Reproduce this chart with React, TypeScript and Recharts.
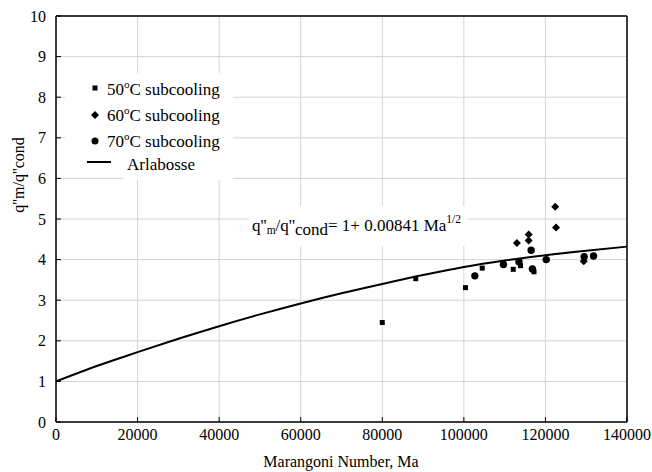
import { ComposedChart, Scatter, Line, XAxis, YAxis, CartesianGrid, ReferenceLine, Customized } from "recharts"

const FONT = "Liberation Serif"

// Arlabosse correlation
const curveMa = [0, 10000, 20000, 30000, 40000, 50000, 60000, 70000, 80000, 90000, 100000, 110000, 120000, 130000, 140000]
const curveRatio = [1.0, 1.38, 1.72, 2.05, 2.36, 2.65, 2.92, 3.17, 3.4, 3.62, 3.82, 3.98, 4.11, 4.22, 4.32]

// 50 C subcooling
const sub50Ma = [80000, 88200, 100400, 104500, 112100, 113900, 117200]
const sub50Ratio = [2.45, 3.53, 3.31, 3.79, 3.76, 3.85, 3.7]

// 60 C subcooling
const sub60Ma = [113000, 115900, 115900, 122400, 122600, 129400]
const sub60Ratio = [4.41, 4.62, 4.47, 5.3, 4.79, 3.96]

// 70 C subcooling
const sub70Ma = [102700, 109700, 113500, 116500, 116800, 120200, 129500, 131800]
const sub70Ratio = [3.6, 3.88, 3.95, 4.23, 3.77, 4.0, 4.07, 4.09]

const xTicks = [0, 20000, 40000, 60000, 80000, 100000, 120000, 140000]
const yTicks = [0, 1, 2, 3, 4, 5, 6, 7, 8, 9, 10]

const zip = (xs: number[], ys: number[]) => xs.map((ma, i) => ({ ma, q: ys[i] }))

const curveData = zip(curveMa, curveRatio)
const sub50 = zip(sub50Ma, sub50Ratio)
const sub60 = zip(sub60Ma, sub60Ratio)
const sub70 = zip(sub70Ma, sub70Ratio)

const Square = (p: any) => <rect x={p.cx - 2.5} y={p.cy - 2.5} width={5} height={5} fill="#000" />
const Diamond = (p: any) => (
  <path d={`M${p.cx},${p.cy - 4} L${p.cx + 4},${p.cy} L${p.cx},${p.cy + 4} L${p.cx - 4},${p.cy} Z`} fill="#000" />
)
const Dot = (p: any) => <circle cx={p.cx} cy={p.cy} r={3.7} fill="#000" />

const XTick = (p: any) => (
  <g>
    <line x1={p.x} x2={p.x} y1={p.y - 7} y2={p.y - 12} stroke="#000" strokeWidth={1} />
    <text x={p.x} y={p.y} dy="0.71em" textAnchor="middle" fontFamily={FONT} fontSize={16} fill="#000">
      {p.payload.value}
    </text>
  </g>
)

const YTick = (p: any) => (
  <g>
    <line x1={p.x + 10} x2={p.x + 15} y1={p.y} y2={p.y} stroke="#000" strokeWidth={1} />
    <text x={p.x} y={p.y} dy="0.35em" textAnchor="end" fontFamily={FONT} fontSize={16} fill="#000">
      {p.payload.value}
    </text>
  </g>
)

function Annotations() {
  return (
    <g fill="#000" fontFamily={FONT}>
      <text transform="translate(24,175) rotate(-90)" textAnchor="middle" fontSize={16}>
        q''m/q''cond
      </text>
      <text x={341} y={467} textAnchor="middle" fontSize={16}>
        Marangoni Number, Ma
      </text>

      {/* legend */}
      <rect x={65} y={73} width={168} height={103} fill="#fff" />
      <rect x={123} y={170} width={110} height={10} fill="#fff" />
      <rect x={92.5} y={85.5} width={5} height={5} />
      <path d="M95,111 L99,115 L95,119 L91,115 Z" />
      <circle cx={95} cy={141} r={3.5} />
      <line x1={87} x2={111} y1={162} y2={162} stroke="#000" strokeWidth={2} />
      <text x={107} y={95} fontSize={17}>
        50<tspan dy={-7} fontSize={11}>o</tspan><tspan dy={7}>C subcooling</tspan>
      </text>
      <text x={107} y={121} fontSize={17}>
        60<tspan dy={-7} fontSize={11}>o</tspan><tspan dy={7}>C subcooling</tspan>
      </text>
      <text x={107} y={147} fontSize={17}>
        70<tspan dy={-7} fontSize={11}>o</tspan><tspan dy={7}>C subcooling</tspan>
      </text>
      <text x={127} y={170} fontSize={17}>
        Arlabosse
      </text>

      {/* correlation */}
      <rect x={249} y={206} width={219} height={40} fill="#fff" />
      <text x={252} y={231} fontSize={17}>
        q''<tspan dy={3} fontSize={11.5}>m</tspan>
        <tspan dy={-3}>/q''</tspan>
        <tspan dy={4}>cond</tspan>
        <tspan dy={-4}>= 1+ 0.00841 Ma</tspan>
        <tspan dy={-8} fontSize={11.5}>1/2</tspan>
      </text>
    </g>
  )
}

export default function App() {
  return (
    <div style={{ position: "absolute", left: 0, top: 0, width: 652, height: 472, background: "#fff" }}>
      <ComposedChart width={652} height={472} margin={{ top: 16, right: 25, left: 0, bottom: 0 }}>
        <CartesianGrid stroke="#d4d4d4" strokeWidth={1} />
        <XAxis
          dataKey="ma"
          type="number"
          domain={[0, 140000]}
          ticks={xTicks}
          interval={0}
          height={50}
          tickSize={0}
          tickMargin={7}
          tickLine={false}
          tick={<XTick />}
          axisLine={{ stroke: "#000", strokeWidth: 1.5 }}
          allowDataOverflow
        />
        <YAxis
          dataKey="q"
          type="number"
          domain={[0, 10]}
          ticks={yTicks}
          interval={0}
          width={56}
          tickSize={0}
          tickMargin={10}
          tickLine={false}
          tick={<YTick />}
          axisLine={{ stroke: "#000", strokeWidth: 1.5 }}
          allowDataOverflow
        />
        <ReferenceLine y={10} stroke="#000" strokeWidth={1.5} />
        <ReferenceLine x={140000} stroke="#000" strokeWidth={1.5} />
        <Line
          data={curveData}
          dataKey="q"
          type="monotone"
          stroke="#000"
          strokeWidth={2}
          dot={false}
          activeDot={false}
          isAnimationActive={false}
        />
        <Scatter data={sub50} dataKey="q" shape={Square} isAnimationActive={false} />
        <Scatter data={sub60} dataKey="q" shape={Diamond} isAnimationActive={false} />
        <Scatter data={sub70} dataKey="q" shape={Dot} isAnimationActive={false} />
        <Customized component={Annotations} />
      </ComposedChart>
    </div>
  )
}
